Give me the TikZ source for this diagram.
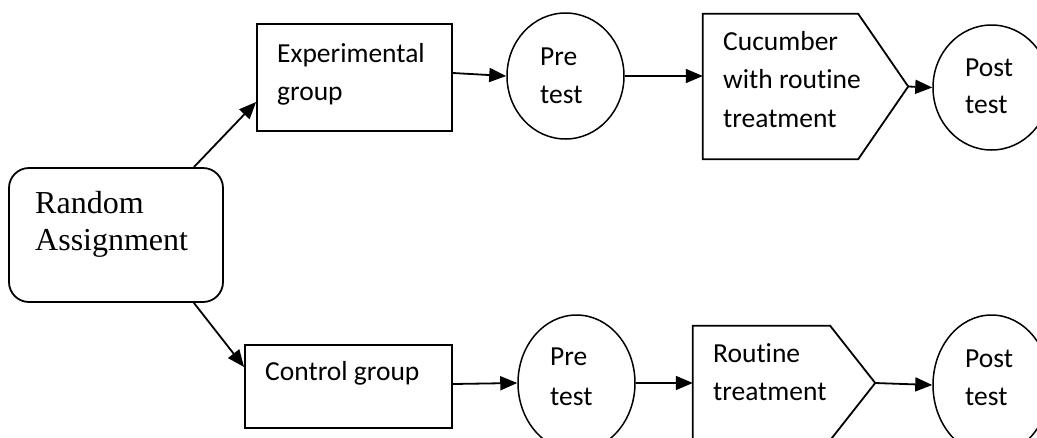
\documentclass[tikz,border=0pt]{standalone}
\usepackage{fontspec}
\setmainfont{Carlito}[Ligatures=NoCommon]
\newfontfamily\timesf{Liberation Serif}
\usetikzlibrary{shapes.geometric,arrows.meta,calc}
\begin{document}
\begin{tikzpicture}[x=1pt,y=-1pt,
  box/.style={draw, line width=1.8pt, inner sep=0pt},
  hid/.style={inner sep=0pt},
  ell/.style={ellipse, draw, line width=1.5pt, inner sep=0pt},
  pent/.style={line width=1.8pt, line join=miter},
  arr/.style={-{Triangle[length=17pt,width=14pt]}, line width=1.8pt},
  txt/.style={anchor=base west, inner sep=0pt, font=\fontsize{27.5}{38}\selectfont},
  rtxt/.style={anchor=base west, inner sep=0pt, font=\timesf\fontsize{32}{37}\selectfont}]
\useasboundingbox (0,0) rectangle (1037,437);
\clip (0,0) rectangle (1037,437);

% shapes
\node[box, rounded corners=20pt, minimum width=214pt, minimum height=134pt] (ra) at (116,235) {};
\node[box, minimum width=195pt, minimum height=107pt] (exp) at (354.5,77.5) {};
\node[ell, minimum width=117pt, minimum height=126pt] (pre1) at (565.5,76) {};
\node[hid, minimum width=155pt, minimum height=145pt] (cuc) at (780.5,86.5) {};
\coordinate (cuctip) at ($(cuc.east)+(50,0)$);
\draw[pent] (cuc.north west) -- (cuc.north east) -- (cuctip) -- (cuc.south east) -- (cuc.south west) -- cycle;
\node[ell, minimum width=117pt, minimum height=125pt] (post1) at (991.5,87.5) {};

\node[box, minimum width=207pt, minimum height=83pt] (ctrl) at (348.5,386.5) {};
\node[ell, minimum width=117pt, minimum height=136pt] (pre2) at (576.5,383) {};
\node[hid, minimum width=137pt, minimum height=114pt] (rout) at (761.5,383) {};
\coordinate (rtip) at ($(rout.east)+(45,0)$);
\draw[pent] (rout.north west) -- (rout.north east) -- (rtip) -- (rout.south east) -- (rout.south west) -- cycle;
\node[ell, minimum width=117pt, minimum height=140pt] (post2) at (991.5,385) {};

% texts
\node[rtxt] (ra1) at (35,213) {Random};
\node[rtxt] (ra2) at (35,250) {Assignment};
\node[txt] (e1) at (277,62) {Experimental};
\node[txt] (e2) at (277,100) {group};
\node[txt] (p1a) at (540,65) {Pre};
\node[txt] (p1b) at (540,103) {test};
\node[txt] (c1) at (723,50) {Cucumber};
\node[txt] (c2) at (723,88) {with routine};
\node[txt] (c3) at (723,127) {treatment};
\node[txt] (q1a) at (965,76) {Post};
\node[txt] (q1b) at (965,113) {test};
\node[txt] (g1) at (265,380) {Control group};
\node[txt] (p2a) at (550,365) {Pre};
\node[txt] (p2b) at (550,405) {test};
\node[txt] (r1) at (713,362) {Routine};
\node[txt] (r2) at (713,400) {treatment};
\node[txt] (q2a) at (965,367) {Post};
\node[txt] (q2b) at (965,405) {test};

% connectors
\draw[arr] ([xshift=-30pt]ra.north east) -- ([yshift=-24.5pt]exp.west);
\draw[arr] ([xshift=-30pt]ra.south east) -- ([yshift=19.5pt]ctrl.west);
\draw[arr] ([yshift=4.5pt]exp.east) -- (pre1.west);
\draw[arr] (pre1.east) -- (pre1.east -| cuc.west);
\draw[arr] (cuctip) -- (post1.west);
\draw[arr] ([yshift=2.5pt]ctrl.east) -- (pre2.west);
\draw[arr] (pre2.east) -- (pre2.east -| rout.west);
\draw[arr] (rtip) -- (post2.west);
\end{tikzpicture}
\end{document}
